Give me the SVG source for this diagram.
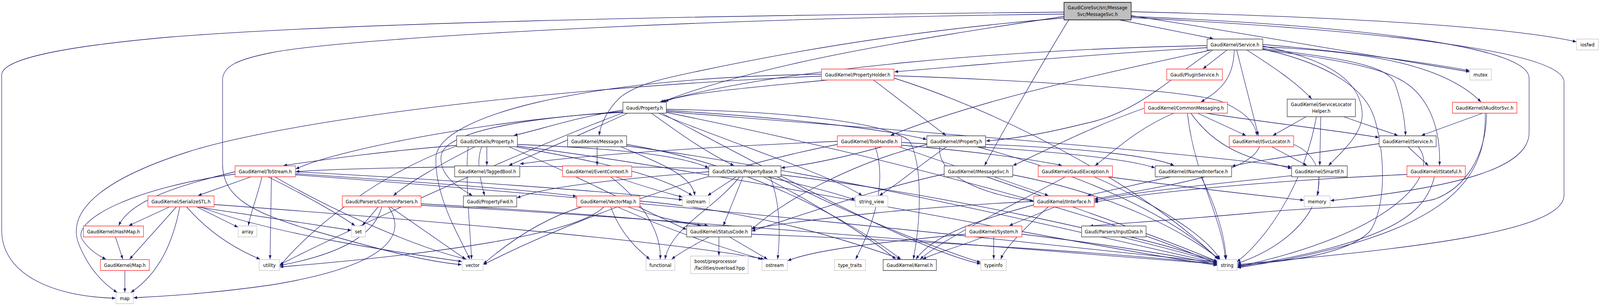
<svg xmlns="http://www.w3.org/2000/svg" width="4716" height="784" viewBox="0 0 4716 784">
<style>
.e{fill:none;stroke:#191970;stroke-width:1.3;marker-end:url(#ah)}
.b{fill:#fff;stroke:#404040;stroke-width:1.5}
.r{fill:#fff;stroke:#ff3030;stroke-width:1.5}
.g{fill:#fff;stroke:#c8c8c8;stroke-width:1.5}
.root{fill:#bfbfbf;stroke:#000;stroke-width:1.5}
text{font-family:"DejaVu Sans","Liberation Sans",sans-serif;font-size:13px;fill:#000;text-anchor:middle}
text.l{text-anchor:start}
</style>
<defs>
<marker id="ah" markerUnits="userSpaceOnUse" markerWidth="11" markerHeight="8" refX="10" refY="4" orient="auto">
<path d="M0,0 L10,4 L0,8 z" fill="#191970"/>
</marker>
</defs>
<rect width="4716" height="784" fill="#fff"/>
<g id="diagram" transform="scale(0.868533,1)">
<g id="edges">
<path class="e" d="M3136,31 C2000,40 1000,60 500,95 C200,118 5,150 5,192 L5,590 C5,700 150,760 340,764"/>
<path class="e" d="M3136,36 C2000,48 1000,100 800,135 C700,152 656,170 656,205 L656,420 C656,500 730,540 900,585 C1100,635 1250,670 1360,678"/>
<path class="e" d="M3136,42 C2700,100 2250,160 1952,261"/>
<path class="e" d="M3136,46 C2800,70 2450,110 2060,182 C1950,202 1880,215 1830,248 C1790,280 1770,318 1766,347"/>
<path class="e" d="M3300,51 L3576,99"/>
<path class="e" d="M3150,51 C3080,150 2960,330 2902,424"/>
<path class="e" d="M3334,30 C3800,40 4400,60 4646,107"/>
<path class="e" d="M3334,40 C3700,90 4100,150 4331,184"/>
<path class="e" d="M3334,45 C3900,70 4610,120 4610,210 L4610,500 C4610,600 4100,640 3648,678"/>
<path class="e" d="M3334,42 C3900,62 4507,110 4507,200 L4507,340 C4507,430 4300,480 3922,514"/>
<path class="e" d="M3558,117 C3000,125 2300,175 1946,261"/>
<path class="e" d="M3558,122 C3200,140 2900,165 2637,184"/>
<path class="e" d="M3570,128 C3300,180 2900,250 2625,347"/>
<path class="e" d="M3575,128 C3450,200 3350,290 3200,316 C3100,338 3000,355 2907,361"/>
<path class="e" d="M3617,128 L3546,176"/>
<path class="e" d="M3638,128 C3636,200 3600,230 3540,261"/>
<path class="e" d="M3645,128 L3709,347"/>
<path class="e" d="M3675,128 C3750,170 3820,210 3866,253"/>
<path class="e" d="M3722,114 C3950,130 4200,160 4331,181"/>
<path class="e" d="M3722,120 C4000,130 4250,160 4365,261"/>
<path class="e" d="M3722,124 C3950,150 4090,165 4112,215 C4132,265 4140,300 4143,347"/>
<path class="e" d="M3722,127 C4000,160 4120,180 4180,240 C4240,300 4245,380 4243,424"/>
<path class="e" d="M3722,118 C3900,150 4010,200 4015,290 C4018,340 3960,385 3916,424"/>
<path class="e" d="M3722,126 C3900,160 4020,220 4050,300 C4080,380 4090,520 4040,590 C3980,650 3800,670 3648,680"/>
<path class="e" d="M1836,282 C1700,300 1600,330 1515,347"/>
<path class="e" d="M1920,290 C2000,340 2080,390 2163,424"/>
<path class="e" d="M1836,286 C1600,300 1310,330 1300,400 C1295,450 1350,480 1392,501"/>
<path class="e" d="M1964,283 C2300,300 2600,330 2731,357"/>
<path class="e" d="M1964,280 C2300,285 2600,310 2680,360 C2720,420 2715,560 2692,664"/>
<path class="e" d="M1964,286 C2600,330 3500,390 3806,428"/>
<path class="e" d="M1850,290 C1700,350 1560,400 1500,424"/>
<path class="e" d="M1836,288 C1500,300 1000,380 872,433"/>
<path class="e" d="M1964,288 C2600,400 3300,560 3587,677"/>
<path class="e" d="M1940,290 C2200,380 2450,450 2541,501"/>
<path class="e" d="M1950,290 C2300,450 2700,640 2890,676"/>
<path class="e" d="M1836,289 C1500,400 1000,600 825,678"/>
<path class="e" d="M1435,376 L1435,424"/>
<path class="e" d="M1400,376 C1300,420 1200,470 1160,501"/>
<path class="e" d="M1350,372 C1100,390 950,410 836,424"/>
<path class="e" d="M1525,370 C1800,380 2000,395 2088,430"/>
<path class="e" d="M1420,376 C1400,420 1420,470 1428,501"/>
<path class="e" d="M1500,376 C1700,450 1900,540 2023,588"/>
<path class="e" d="M1525,374 C2200,450 3000,600 3587,680"/>
<path class="e" d="M1380,376 C1370,450 1385,580 1390,664"/>
<path class="e" d="M1346,374 C1100,450 900,600 825,682"/>
<path class="e" d="M1520,376 C1800,420 1950,450 2040,501"/>
<path class="e" d="M1760,376 L1760,424"/>
<path class="e" d="M1830,376 C1950,420 2040,450 2048,501"/>
<path class="e" d="M1847,370 C2200,420 2500,560 2655,664"/>
<path class="e" d="M1847,374 C2500,450 3200,600 3587,674"/>
<path class="e" d="M1815,453 C1900,480 1970,495 2011,505"/>
<path class="e" d="M1800,453 C1900,520 1950,600 1946,664"/>
<path class="e" d="M2089,440 C1800,460 1600,480 1524,507"/>
<path class="e" d="M2190,453 L2132,578"/>
<path class="e" d="M2170,453 L2086,501"/>
<path class="e" d="M2180,453 C2100,540 1980,580 1960,664"/>
<path class="e" d="M2250,453 C2400,520 2550,600 2640,664"/>
<path class="e" d="M2089,432 C1600,420 1000,430 872,440"/>
<path class="e" d="M2302,448 C2800,500 3300,600 3587,672"/>
<path class="e" d="M2260,453 C2400,480 2480,500 2520,512"/>
<path class="e" d="M2290,453 C2500,550 2800,650 2890,672"/>
<path class="e" d="M2270,453 C2300,520 2300,600 2292,664"/>
<path class="e" d="M2440,205 C2200,225 2000,240 1960,261"/>
<path class="e" d="M2575,205 L2788,347"/>
<path class="e" d="M2635,194 C3000,205 3500,230 3600,260 C3680,290 3700,320 3705,347"/>
<path class="e" d="M2421,195 C1500,230 800,320 551,390 C300,460 200,540 230,620 C260,690 310,730 345,749"/>
<path class="e" d="M2635,200 C3000,300 3400,500 3590,664"/>
<path class="e" d="M2421,190 C1700,200 1300,300 1285,400 C1280,500 1350,600 1385,664"/>
<path class="e" d="M2468,362 C2000,380 1700,400 1533,420"/>
<path class="e" d="M2600,376 C2500,400 2400,420 2303,430"/>
<path class="e" d="M2580,376 C2620,480 2560,600 2522,664"/>
<path class="e" d="M2657,365 C3000,380 3300,400 3404,430"/>
<path class="e" d="M2657,372 C2900,390 3050,410 3130,424"/>
<path class="e" d="M2650,376 C3000,480 3400,600 3588,670"/>
<path class="e" d="M2468,370 C2000,450 1600,600 1425,678"/>
<path class="e" d="M2770,376 C2760,450 2900,500 3046,515"/>
<path class="e" d="M2905,370 C3200,380 3400,400 3460,424"/>
<path class="e" d="M2880,376 C3200,450 3450,550 3592,664"/>
<path class="e" d="M2732,370 C2500,420 2300,520 2216,588"/>
<path class="e" d="M2790,376 C2700,430 2650,470 2592,501"/>
<path class="e" d="M2930,453 L3090,501"/>
<path class="e" d="M2985,448 C3300,500 3500,600 3594,664"/>
<path class="e" d="M2783,446 C2600,480 2400,540 2216,592"/>
<path class="e" d="M3373,277 C3200,330 3050,400 2986,424"/>
<path class="e" d="M3530,290 L3672,347"/>
<path class="e" d="M3555,290 C3700,310 3900,330 4064,352"/>
<path class="e" d="M3460,290 C3350,330 3280,390 3228,424"/>
<path class="e" d="M3510,290 C3600,400 3720,410 3806,432"/>
<path class="e" d="M3500,290 C3520,450 3600,550 3612,664"/>
<path class="e" d="M3850,299 L3752,347"/>
<path class="e" d="M3893,299 L3890,424"/>
<path class="e" d="M3960,299 L4120,347"/>
<path class="e" d="M3880,299 C3850,450 3750,600 3646,671"/>
<path class="e" d="M3748,376 L3852,424"/>
<path class="e" d="M3712,376 C3680,450 3400,480 3226,510"/>
<path class="e" d="M3813,370 C3950,420 3900,600 3647,675"/>
<path class="e" d="M4065,368 C3900,390 3700,410 3631,426"/>
<path class="e" d="M4150,376 L4210,424"/>
<path class="e" d="M4180,376 C4250,450 4100,600 3648,683"/>
<path class="e" d="M4370,290 L4190,347"/>
<path class="e" d="M4378,290 C4380,450 4300,600 3648,686"/>
<path class="e" d="M4382,290 C4380,400 4320,480 4230,510 C4150,530 3950,525 3700,545 C3450,565 3300,572 3212,579"/>
<path class="e" d="M3266,453 C3500,480 3700,500 3843,513"/>
<path class="e" d="M3225,453 C3400,520 3550,600 3596,664"/>
<path class="e" d="M3140,453 C3000,520 2800,600 2712,664"/>
<path class="e" d="M3110,530 L2975,578"/>
<path class="e" d="M3090,530 C3000,600 2960,640 2950,664"/>
<path class="e" d="M3047,525 C2900,560 2750,600 2700,664"/>
<path class="e" d="M3047,516 C2700,530 2400,560 2216,586"/>
<path class="e" d="M3450,453 L3205,501"/>
<path class="e" d="M3540,453 C3580,520 3610,600 3614,664"/>
<path class="e" d="M3888,453 L3884,501"/>
<path class="e" d="M3807,450 C3600,470 3350,490 3226,514"/>
<path class="e" d="M4147,447 C3800,460 3400,490 3226,518"/>
<path class="e" d="M4228,453 C4200,550 4100,620 3648,684"/>
<path class="e" d="M2900,607 C2800,640 2750,650 2720,664"/>
<path class="e" d="M2929,607 L2929,664"/>
<path class="e" d="M3012,600 C3300,630 3500,660 3587,678"/>
<path class="e" d="M2846,600 C2600,620 2400,640 2322,668"/>
<path class="e" d="M3330,607 C3450,630 3550,660 3588,670"/>
<path class="e" d="M2090,607 C2040,630 2000,650 1980,664"/>
<path class="e" d="M2119,607 L2119,655"/>
<path class="e" d="M2150,607 L2262,664"/>
<path class="e" d="M2215,600 C2800,620 3300,650 3587,676"/>
<path class="e" d="M1850,530 C1950,560 2010,570 2066,578"/>
<path class="e" d="M1800,530 C1830,600 1880,640 1915,664"/>
<path class="e" d="M1820,530 C2000,600 2150,640 2245,664"/>
<path class="e" d="M1886,515 C2200,540 2450,600 2655,664"/>
<path class="e" d="M1780,530 C1700,600 1300,650 825,684"/>
<path class="e" d="M1715,530 C1600,560 1500,620 1425,676"/>
<path class="e" d="M740,453 L584,501"/>
<path class="e" d="M693,440 C500,480 380,520 350,578"/>
<path class="e" d="M693,446 C400,480 220,560 240,610 C260,640 290,655 312,664"/>
<path class="e" d="M772,453 C760,500 740,540 732,578"/>
<path class="e" d="M800,453 L796,664"/>
<path class="e" d="M790,453 C900,500 1000,550 1046,578"/>
<path class="e" d="M810,453 C1000,550 1250,640 1375,664"/>
<path class="e" d="M871,440 C1300,460 1800,490 2011,512"/>
<path class="e" d="M871,445 C1300,470 1600,490 1699,503"/>
<path class="e" d="M871,448 C2000,520 3000,620 3587,672"/>
<path class="e" d="M500,530 L380,578"/>
<path class="e" d="M520,530 L382,664"/>
<path class="e" d="M530,530 C510,620 470,700 386,749"/>
<path class="e" d="M580,530 L701,582"/>
<path class="e" d="M550,530 C620,600 700,640 766,664"/>
<path class="e" d="M590,530 C800,600 1200,650 1361,670"/>
<path class="e" d="M580,530 C800,560 950,580 1035,590"/>
<path class="e" d="M631,524 C1200,560 2000,620 2252,664"/>
<path class="e" d="M340,607 L362,664"/>
<path class="e" d="M368,693 L368,749"/>
<path class="e" d="M1115,530 L1068,578"/>
<path class="e" d="M1145,530 C1200,600 1150,680 800,730 C600,755 450,760 394,763"/>
<path class="e" d="M1150,530 L1372,664"/>
<path class="e" d="M1125,530 C1100,620 950,660 825,680"/>
<path class="e" d="M1241,522 C1600,540 1900,560 2087,578"/>
<path class="e" d="M1241,526 C2000,560 3000,640 3587,676"/>
</g>
<g id="n0"><rect class="root" x="3136" y="6" width="198" height="45"/><text x="3235" y="24.5">GaudiCoreSvc/src/Message</text><text x="3235" y="41.5">Svc/MessageSvc.h</text></g>
<g id="n1"><rect class="b" x="1836" y="262" width="128" height="28"/><text x="1900" y="281">Gaudi/Property.h</text></g>
<g id="n2"><rect class="b" x="1673" y="348" width="174" height="28"/><text x="1760" y="367">GaudiKernel/Message.h</text></g>
<g id="n3"><rect class="b" x="1346" y="348" width="179" height="28"/><text x="1435.5" y="367">Gaudi/Details/Property.h</text></g>
<g id="n4"><rect class="r" x="2421" y="177" width="214" height="28"/><text x="2528" y="196">GaudiKernel/PropertyHolder.h</text></g>
<g id="n5"><rect class="r" x="2468" y="348" width="189" height="28"/><text x="2562.5" y="367">GaudiKernel/ToolHandle.h</text></g>
<g id="n6"><rect class="b" x="2732" y="348" width="173" height="28"/><text x="2818.5" y="367">GaudiKernel/IProperty.h</text></g>
<g id="n7"><rect class="b" x="3558" y="100" width="164" height="28"/><text x="3640" y="119">GaudiKernel/Service.h</text></g>
<g id="n8"><rect class="r" x="3439" y="177" width="164" height="28"/><text x="3521" y="196">Gaudi/PluginService.h</text></g>
<g id="n9"><rect class="r" x="3373" y="262" width="245" height="28"/><text x="3495.5" y="281">GaudiKernel/CommonMessaging.h</text></g>
<g id="n10"><rect class="b" x="3794" y="254" width="201" height="45"/><text x="3894.5" y="272.5">GaudiKernel/ServiceLocator</text><text x="3894.5" y="289.5">Helper.h</text></g>
<g id="n11"><rect class="r" x="3623" y="348" width="190" height="28"/><text x="3718" y="367">GaudiKernel/ISvcLocator.h</text></g>
<g id="n12"><rect class="g" x="4647" y="100" width="64" height="28"/><text x="4679" y="119">iosfwd</text></g>
<g id="n13"><rect class="g" x="4332" y="177" width="64" height="28"/><text x="4364" y="196">mutex</text></g>
<g id="n14"><rect class="r" x="4281" y="262" width="190" height="28"/><text x="4376" y="281">GaudiKernel/IAuditorSvc.h</text></g>
<g id="n15"><rect class="b" x="4065" y="348" width="168" height="28"/><text x="4149" y="367">GaudiKernel/IService.h</text></g>
<g id="n16"><rect class="r" x="693" y="425" width="178" height="28"/><text x="782" y="444">GaudiKernel/ToStream.h</text></g>
<g id="n17"><rect class="r" x="436" y="502" width="195" height="28"/><text x="533.5" y="521">GaudiKernel/SerializeSTL.h</text></g>
<g id="n18"><rect class="r" x="246" y="579" width="177" height="28"/><text x="334.5" y="598">GaudiKernel/HashMap.h</text></g>
<g id="n19"><rect class="g" x="702" y="579" width="55" height="28"/><text x="729.5" y="598">array</text></g>
<g id="n20"><rect class="r" x="296" y="665" width="144" height="28"/><text x="368" y="684">GaudiKernel/Map.h</text></g>
<g id="n21"><rect class="g" x="764" y="665" width="60" height="28"/><text x="794" y="684">utility</text></g>
<g id="n22"><rect class="g" x="342" y="750" width="51" height="28"/><text x="367.5" y="769">map</text></g>
<g id="n23"><rect class="b" x="1340" y="425" width="192" height="28"/><text x="1436" y="444">GaudiKernel/TaggedBool.h</text></g>
<g id="n24"><rect class="r" x="1009" y="502" width="232" height="28"/><text x="1125" y="521">Gaudi/Parsers/CommonParsers.h</text></g>
<g id="n25"><rect class="b" x="1366" y="502" width="157" height="28"/><text x="1444.5" y="521">Gaudi/PropertyFwd.h</text></g>
<g id="n26"><rect class="g" x="1036" y="579" width="41" height="28"/><text x="1056.5" y="598">set</text></g>
<g id="n27"><rect class="g" x="1362" y="665" width="62" height="28"/><text x="1393" y="684">vector</text></g>
<g id="n28"><rect class="r" x="1658" y="425" width="204" height="28"/><text x="1760" y="444">GaudiKernel/EventContext.h</text></g>
<g id="n29"><rect class="b" x="2089" y="425" width="213" height="28"/><text x="2195.5" y="444">Gaudi/Details/PropertyBase.h</text></g>
<g id="n30"><rect class="r" x="1700" y="502" width="186" height="28"/><text x="1793" y="521">GaudiKernel/VectorMap.h</text></g>
<g id="n31"><rect class="g" x="2012" y="502" width="79" height="28"/><text x="2051.5" y="521">iostream</text></g>
<g id="n32"><rect class="b" x="2024" y="579" width="191" height="28"/><text x="2119.5" y="598">GaudiKernel/StatusCode.h</text></g>
<g id="n33"><rect class="g" x="1904" y="665" width="85" height="28"/><text x="1946.5" y="684">functional</text></g>
<g id="n34"><rect class="g" x="2035" y="656" width="170" height="45"/><text class="l" x="2047" y="674.5">boost/preprocessor</text><text class="l" x="2047" y="691.5">/facilities/overload.hpp</text></g>
<g id="n35"><rect class="g" x="2246" y="665" width="75" height="28"/><text x="2283.5" y="684">ostream</text></g>
<g id="n36"><rect class="b" x="2783" y="425" width="202" height="28"/><text x="2884" y="444">GaudiKernel/IMessageSvc.h</text></g>
<g id="n37"><rect class="r" x="3060" y="425" width="219" height="28"/><text x="3169.5" y="444">GaudiKernel/GaudiException.h</text></g>
<g id="n38"><rect class="g" x="2521" y="502" width="96" height="28"/><text x="2569" y="521">string_view</text></g>
<g id="n39"><rect class="r" x="3047" y="502" width="178" height="28"/><text x="3136" y="521">GaudiKernel/IInterface.h</text></g>
<g id="n40"><rect class="r" x="2846" y="579" width="166" height="28"/><text x="2929" y="598">GaudiKernel/System.h</text></g>
<g id="n41"><rect class="b" x="3188" y="579" width="190" height="28"/><text x="3283" y="598">Gaudi/Parsers/InputData.h</text></g>
<g id="n42"><rect class="g" x="2460" y="665" width="91" height="28"/><text x="2505.5" y="684">type_traits</text></g>
<g id="n43"><rect class="b" x="2603" y="665" width="157" height="28"/><text x="2681.5" y="684">GaudiKernel/Kernel.h</text></g>
<g id="n44"><rect class="g" x="2891" y="665" width="75" height="28"/><text x="2928.5" y="684">typeinfo</text></g>
<g id="n45"><rect class="b" x="3405" y="425" width="225" height="28"/><text x="3517.5" y="444">GaudiKernel/INamedInterface.h</text></g>
<g id="n46"><rect class="b" x="3807" y="425" width="164" height="28"/><text x="3889" y="444">GaudiKernel/SmartIF.h</text></g>
<g id="n47"><rect class="g" x="3844" y="502" width="76" height="28"/><text x="3882" y="521">memory</text></g>
<g id="n48"><rect class="g" x="3588" y="665" width="58" height="28"/><text x="3617" y="684">string</text></g>
<g id="n49"><rect class="r" x="4147" y="425" width="172" height="28"/><text x="4233" y="444">GaudiKernel/IStateful.h</text></g>
</g>
</svg>
